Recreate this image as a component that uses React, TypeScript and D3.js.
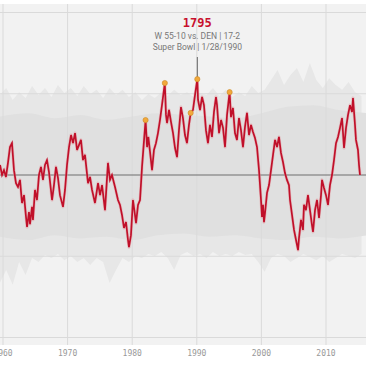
import * as d3 from "d3";
import React from "react";

// red line: 49ers Elo (year, rating)
const teamYears = [
  1959.54, 1959.85, 1960.15, 1960.46, 1960.77, 1961.08, 1961.39, 1961.7, 1962.01, 1962.32,
  1962.63, 1962.94, 1963.25, 1963.56, 1963.72, 1964.02, 1964.18, 1964.49, 1964.64, 1964.95,
  1965.26, 1965.57, 1965.88, 1966.19, 1966.5, 1966.81, 1967.12, 1967.59, 1967.89, 1968.2,
  1968.51, 1968.82, 1969.29, 1969.6, 1969.91, 1970.22, 1970.53, 1970.84, 1971.15, 1971.46,
  1971.76, 1972.07, 1972.38, 1972.69, 1973.16, 1973.47, 1973.78, 1974.24, 1974.71, 1975.02,
  1975.33, 1975.79, 1976.25, 1976.56, 1976.87, 1977.34, 1977.8, 1978.11, 1978.42, 1978.73,
  1979.04, 1979.35, 1979.5, 1979.81, 1980.12, 1980.43, 1980.59, 1980.9, 1981.21, 1981.52,
  1982.07, 1982.3, 1982.5, 1982.76, 1983.07, 1983.37, 1983.68, 1983.99, 1984.3, 1984.61,
  1985.05, 1985.23, 1985.39, 1985.7, 1986.01, 1986.32, 1986.63, 1986.94, 1987.24, 1987.55,
  1987.86, 1988.17, 1988.48, 1988.79, 1989.05, 1989.41, 1989.72, 1990.08, 1990.19, 1990.5,
  1990.81, 1991.11, 1991.42, 1991.73, 1992.04, 1992.35, 1992.66, 1992.97, 1993.13, 1993.44,
  1993.75, 1994.06, 1994.37, 1994.68, 1995.08, 1995.29, 1995.6, 1995.91, 1996.22, 1996.53,
  1996.84, 1997.15, 1997.46, 1997.77, 1998.08, 1998.39, 1998.7, 1999.01, 1999.32, 1999.63,
  1999.94, 2000.09, 2000.25, 2000.4, 2000.56, 2000.87, 2001.18, 2001.49, 2001.8, 2002.11,
  2002.42, 2002.72, 2003.03, 2003.34, 2003.65, 2003.96, 2004.27, 2004.43, 2004.74, 2005.05,
  2005.36, 2005.67, 2005.82, 2006.13, 2006.44, 2006.59, 2006.9, 2007.21, 2007.52, 2007.83,
  2007.99, 2008.3, 2008.61, 2008.92, 2009.23, 2009.38, 2009.69, 2010.0, 2010.31, 2010.46,
  2010.62, 2010.93, 2011.24, 2011.55, 2011.86, 2012.17, 2012.48, 2012.79, 2013.1, 2013.41,
  2013.72, 2014.03, 2014.18, 2014.49, 2014.64, 2014.95, 2015.11, 2015.26,
];
const teamElo = [
  1531, 1500, 1515, 1494, 1537, 1586, 1598, 1515, 1475, 1463,
  1485, 1414, 1438, 1371, 1340, 1386, 1349, 1402, 1362, 1454,
  1423, 1500, 1525, 1485, 1531, 1546, 1509, 1423, 1469, 1525,
  1491, 1438, 1402, 1454, 1531, 1586, 1623, 1598, 1629, 1577,
  1592, 1608, 1546, 1562, 1475, 1494, 1454, 1414, 1475, 1438,
  1469, 1392, 1537, 1485, 1500, 1463, 1423, 1408, 1377, 1337,
  1355, 1300, 1278, 1315, 1423, 1377, 1352, 1408, 1423, 1525,
  1669, 1586, 1617, 1571, 1515, 1577, 1598, 1629, 1669, 1715,
  1783, 1685, 1660, 1700, 1663, 1629, 1583, 1555, 1638, 1709,
  1675, 1623, 1598, 1654, 1691, 1700, 1746, 1795, 1731, 1700,
  1740, 1715, 1638, 1598, 1654, 1617, 1694, 1740, 1715, 1629,
  1669, 1645, 1586, 1685, 1755, 1678, 1706, 1629, 1608, 1675,
  1638, 1586, 1648, 1691, 1623, 1654, 1632, 1614, 1586, 1515,
  1423, 1371, 1408, 1355, 1383, 1445, 1469, 1515, 1562, 1608,
  1586, 1617, 1568, 1540, 1506, 1485, 1469, 1423, 1377, 1331,
  1300, 1269, 1306, 1362, 1331, 1408, 1392, 1438, 1392, 1346,
  1325, 1392, 1423, 1368, 1438, 1485, 1460, 1438, 1408, 1438,
  1469, 1500, 1546, 1598, 1617, 1645, 1675, 1583, 1645, 1685,
  1715, 1694, 1737, 1654, 1608, 1577, 1531, 1500,
];

// Super Bowl wins (orange dots)
const titleYears = [1982.07, 1985.05, 1989.05, 1990.08, 1995.08];
const titleElo = [1669, 1783, 1691, 1795, 1755];

// league-wide spread (grey band) per season
const bandYears = d3.range(57).map((i) => 1959.5 + i);
const bandHigh = [
  1746, 1768, 1731, 1755, 1737, 1774, 1746, 1768, 1740, 1777,
  1752, 1768, 1743, 1774, 1749, 1762, 1737, 1768, 1746, 1762,
  1740, 1755, 1731, 1749, 1737, 1755, 1743, 1762, 1746, 1755,
  1740, 1752, 1746, 1768, 1743, 1762, 1740, 1755, 1743, 1774,
  1752, 1762, 1792, 1823, 1777, 1808, 1829, 1786, 1845, 1792,
  1768, 1798, 1777, 1762, 1786, 1755, 1743,
];
const bandLow = [
  1168, 1208, 1162, 1232, 1192, 1245, 1232, 1254, 1245, 1257,
  1238, 1251, 1232, 1245, 1223, 1245, 1232, 1168, 1208, 1245,
  1232, 1251, 1245, 1257, 1251, 1263, 1245, 1208, 1254, 1263,
  1251, 1257, 1245, 1263, 1251, 1257, 1251, 1263, 1254, 1257,
  1232, 1202, 1245, 1257, 1251, 1232, 1245, 1257, 1248, 1238,
  1251, 1232, 1245, 1257, 1251, 1245, 1257,
];
const coreYears = [1959.5, 1964, 1968, 1972, 1976, 1980, 1984, 1988, 1992, 1996, 2000, 2004, 2008, 2012, 2016.5];
const coreHigh = [1680, 1690, 1675, 1685, 1670, 1680, 1690, 1685, 1680, 1675, 1690, 1710, 1715, 1700, 1690];
const coreLow = [1310, 1300, 1315, 1305, 1310, 1300, 1315, 1320, 1310, 1315, 1305, 1300, 1310, 1305, 1315];

const tickYears = [1960, 1970, 1980, 1990, 2000, 2010];
const gridElo = [1000, 1250, 1750, 2000];

export default function App() {
  const x = d3.scaleLinear().domain([1960, 2010]).range([3, 326]);
  const y = d3.scaleLinear().domain([1000, 2000]).range([337.5, 12.5]);
  const plotL = 0, plotR = 366, plotT = 4, plotB = 345;

  const line = d3.line<number>().x((_, i) => x(teamYears[i])).y((d) => y(d));
  const outer = d3.area<number>()
    .x((d) => x(d))
    .y0((_, i) => y(bandLow[i]))
    .y1((_, i) => y(bandHigh[i]));
  const core = d3.area<number>()
    .x((d) => x(d))
    .y0((_, i) => y(coreLow[i]))
    .y1((_, i) => y(coreHigh[i]))
    .curve(d3.curveMonotoneX);

  const peakX = x(titleYears[3]);
  const peakY = y(titleElo[3]);

  return (
    <svg width={375} height={375} style={{ position: "absolute", left: 0, top: 0, background: "#fff" }}>
      <defs>
        <clipPath id="plot">
          <rect x={plotL} y={plotT} width={plotR - plotL} height={plotB - plotT} />
        </clipPath>
      </defs>
      <rect x={plotL} y={plotT} width={plotR - plotL} height={plotB - plotT} fill="#f2f2f2" />
      <g clipPath="url(#plot)">
        <path d={outer(bandYears) || ""} fill="#e7e7e7" />
        <path d={core(coreYears) || ""} fill="#e0e0e0" />
        {gridElo.map((v) => (
          <line key={v} x1={plotL} x2={plotR} y1={y(v)} y2={y(v)} stroke="#dadada" strokeWidth={1} />
        ))}
        {tickYears.map((t) => (
          <line key={t} x1={x(t)} x2={x(t)} y1={plotT} y2={plotB} stroke="#dadada" strokeWidth={1} />
        ))}
        <line x1={plotL} x2={plotR} y1={y(1500)} y2={y(1500)} stroke="#6e6e6e" strokeWidth={1} />
        <path d={line(teamElo) || ""} fill="none" stroke="#e49aa0" strokeWidth={3} strokeLinejoin="round" opacity={0.55} />
        <path d={line(teamElo) || ""} fill="none" stroke="#c0102a" strokeWidth={1.7} strokeLinejoin="miter" />
      </g>
      <line x1={peakX} x2={peakX} y1={peakY} y2={57} stroke="#666" strokeWidth={1} />
      {titleYears.map((t, i) => (
        <circle key={t} cx={x(t)} cy={y(titleElo[i])} r={2.6} fill="#f2a93b" stroke="#c98a2a" strokeWidth={0.6} />
      ))}
      <text x={peakX} y={27} textAnchor="middle" fontFamily="DejaVu Sans Mono" fontWeight="bold" fontSize={12} fill="#c8102e">
        1795
      </text>
      <text x={peakX} y={39} textAnchor="middle" fontFamily="Roboto" fontSize={8.5} fill="#777">
        W 55-10 vs. DEN | 17-2
      </text>
      <text x={peakX} y={50} textAnchor="middle" fontFamily="Roboto" fontSize={8.5} fill="#777">
        Super Bowl | 1/28/1990
      </text>
      {tickYears.map((t) => (
        <text key={t} x={x(t)} y={356} textAnchor="middle" fontFamily="DejaVu Sans Mono" fontSize={8} fill="#999">
          {t}
        </text>
      ))}
    </svg>
  );
}
